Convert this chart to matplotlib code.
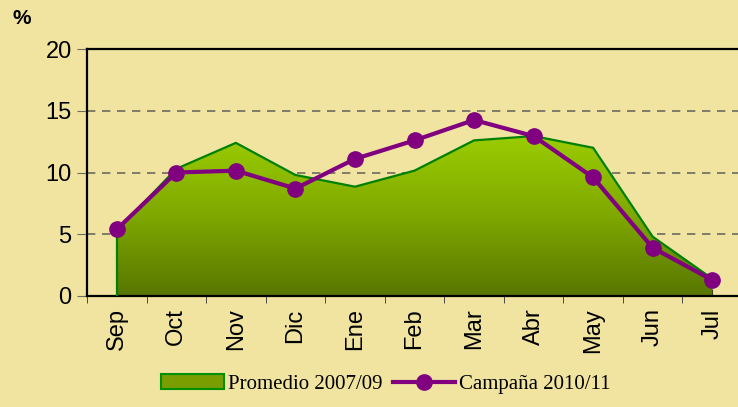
import numpy as np
import matplotlib.pyplot as plt
from matplotlib.colors import LinearSegmentedColormap
from matplotlib.patches import Patch
from matplotlib.lines import Line2D
from matplotlib.ticker import MultipleLocator

# datos
meses = ["Sep", "Oct", "Nov", "Dic", "Ene", "Feb", "Mar", "Abr", "May", "Jun", "Jul"]
promedio = [5.3, 10.3, 12.4, 9.8, 8.85, 10.15, 12.6, 12.95, 12.0, 4.8, 1.4]
campana = [5.4, 10.0, 10.15, 8.7, 11.1, 12.6, 14.25, 12.95, 9.6, 3.9, 1.3]
yticks = [0, 5, 10, 15, 20]

fondo = "#F0E4A0"
plt.rcParams['font.family'] = ['Liberation Sans', 'DejaVu Sans']

fig = plt.figure(figsize=(7.38, 4.07), dpi=100, facecolor=fondo)
ax = fig.add_axes([87/738, 1-296/407, 655/738, 247/407])
ax.set_facecolor(fondo)

x = np.arange(len(meses))

# area con degradado
area = ax.fill_between(x, promedio, 0, facecolor='none', edgecolor='none')
cmap = LinearSegmentedColormap.from_list("verde", ["#587600", "#7FA800", "#9ACC00"])
grad = np.linspace(0, 1, 256).reshape(-1, 1)
img = ax.imshow(grad, cmap=cmap, origin='lower', aspect='auto',
                extent=[x[0], x[-1], 0, max(promedio)], zorder=2)
img.set_clip_path(area.get_paths()[0], transform=ax.transData)
ax.plot(x, promedio, color='#008000', lw=1.6, zorder=3)
ax.plot([x[0], x[0]], [0, promedio[0]], color='#008000', lw=1.6, zorder=3)

ax.plot(x, campana, color='#800080', lw=3, marker='o', markersize=11, zorder=4)

ax.set_xlim(-0.5, len(meses) - 0.5)
ax.set_ylim(0, 20)
ax.set_yticks(yticks)
ax.yaxis.grid(True, linestyle=(0, (5, 4)), color='#6E6A5C', lw=1.2, zorder=1)
ax.set_axisbelow(True)

ax.set_xticks(x)
ax.set_xticklabels(meses, rotation=90, fontsize=17)
ax.xaxis.set_minor_locator(MultipleLocator(1, offset=0.5))
ax.tick_params(axis='x', which='major', direction='in', length=5, color='#333333', pad=9)
ax.tick_params(axis='x', which='minor', direction='out', length=5, color='#333333')
ax.tick_params(axis='y', direction='out', length=7, color='#6E6A5C', labelsize=17, pad=4)

for lado in ['left', 'bottom', 'top']:
    ax.spines[lado].set_color('black')
    ax.spines[lado].set_linewidth(1.6)
ax.spines['right'].set_visible(False)

fig.text(13/738, 1-19/407, "%", fontsize=15, fontweight='bold', va='center', ha='left')

handles = [Patch(facecolor='#7A9E00', edgecolor='#009000', lw=1.5),
           Line2D([0], [0], color='#800080', lw=3, marker='o', markersize=11)]
fig.legend(handles, ["Promedio 2007/09", "Campaña 2010/11"], loc='center',
           bbox_to_anchor=(386/738, 1-384/407), ncol=2, frameon=False,
           prop={'family': 'Liberation Serif', 'size': 15},
           handlelength=3.0, handletextpad=0.2, columnspacing=0.5, handleheight=0.7)

fig.savefig("out.png", dpi=100, facecolor=fondo)
